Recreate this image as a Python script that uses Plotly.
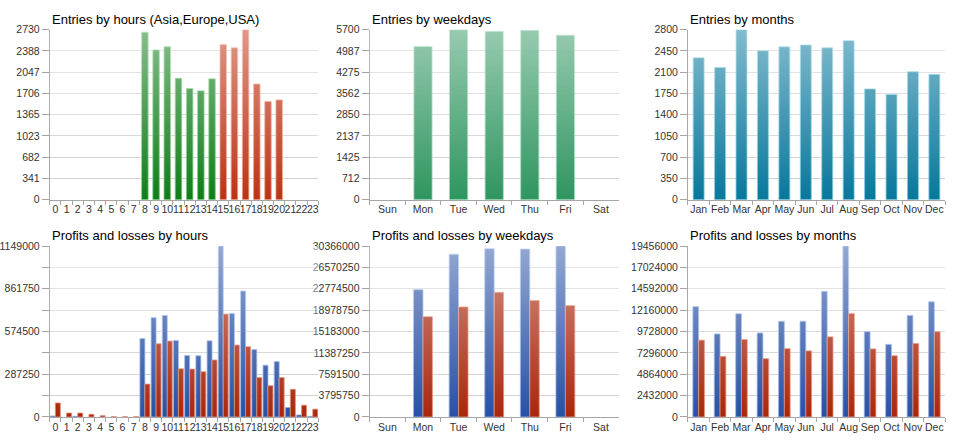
import base64
import struct
import zlib

import plotly.graph_objects as go

# ---------------- data ----------------
hours = [str(h) for h in range(24)]
hour_session = ["Asia"] * 8 + ["Europe"] * 7 + ["USA"] * 9
entries_hours = [0, 0, 0, 0, 0, 0, 0, 0, 2690, 2405, 2455, 1950, 1784, 1747,
                 1940, 2491, 2439, 2730, 1857, 1576, 1602, 0, 0, 0]

weekdays = ["Sun", "Mon", "Tue", "Wed", "Thu", "Fri", "Sat"]
entries_weekdays = [0, 5135, 5700, 5646, 5679, 5516, 0]

months = ["Jan", "Feb", "Mar", "Apr", "May", "Jun", "Jul", "Aug", "Sep", "Oct", "Nov", "Dec"]
entries_months = [2336, 2176, 2800, 2453, 2517, 2549, 2501, 2619, 1824, 1733, 2107, 2064]

profits_hours = [6500, 0, 4000, 0, 0, 0, 0, 0, 527400, 667500, 682800, 514300, 413600,
                 411400, 512100, 1149000, 695900, 846900, 453000, 348000, 372000,
                 63500, 13100, 4000]
losses_hours = [94100, 26300, 26000, 17500, 8750, 1500, 500, 1000, 221000, 492400, 509900,
                323900, 321700, 304200, 383000, 691600, 483600, 472700, 264800, 210100,
                264800, 186000, 78800, 52500]

profits_weekdays = [0, 22615000, 28920000, 29903000, 29845000, 30366000, 0]
losses_weekdays = [0, 17815000, 19550000, 22153000, 20707000, 19781000, 0]

profits_months = [12563000, 9450000, 11748000, 9561000, 10895000, 10895000, 14305000,
                  19456000, 9710000, 8264000, 11562000, 13119000]
losses_months = [8746000, 6893000, 8820000, 6634000, 7782000, 7523000, 9117000, 11785000,
                 7745000, 6967000, 8375000, 9710000]

ticks_entries_hours = ["0", "341", "682", "1023", "1365", "1706", "2047", "2388", "2730"]
ticks_entries_weekdays = ["0", "712", "1425", "2137", "2850", "3562", "4275", "4987", "5700"]
ticks_entries_months = ["0", "350", "700", "1050", "1400", "1750", "2100", "2450", "2800"]
ticks_pl_hours = ["0", "", "287250", "", "574500", "", "861750", "", "1149000"]
ticks_pl_weekdays = ["0", "3795750", "7591500", "11387250", "15183000", "18978750",
                     "22774500", "26570250", "30366000"]
ticks_pl_months = ["0", "2432000", "4864000", "7296000", "9728000", "12160000",
                   "14592000", "17024000", "19456000"]

titles = ["Entries by hours (Asia,Europe,USA)", "Entries by weekdays", "Entries by months",
          "Profits and losses by hours", "Profits and losses by weekdays",
          "Profits and losses by months"]

# ---------------- layout geometry ----------------
W, H = 960, 446
cols = [(45, 315), (366.5, 617), (686.5, 945)]
rows = [(24.3, 199), (246.7, 422.3)]

FONT = "Liberation Sans, Arial, sans-serif"
GREEN, GREEN_L = "#0f7d19", "#7cc97e"
RED, RED_L = "#be3214", "#eb9a86"
MINT, MINT_L = "#2f9660", "#98d6b6"
TEAL, TEAL_L = "#08789c", "#7cc6dc"
BLUE, BLUE_L = "#2850a5", "#93aee6"
BRED, BRED_L = "#aa260c", "#e08a70"


def gradient_png():
    rows_bytes = b""
    n = 256
    for i in range(n):
        a = int(round(128 * (1 - i / (n - 1))))
        rows_bytes += b"\x00" + bytes([255, 255, 255, a])

    def chunk(tag, data):
        c = struct.pack(">I", len(data)) + tag + data
        return c + struct.pack(">I", zlib.crc32(tag + data) & 0xFFFFFFFF)

    png = b"\x89PNG\r\n\x1a\n"
    png += chunk(b"IHDR", struct.pack(">IIBBBBB", 1, n, 8, 6, 0, 0, 0))
    png += chunk(b"IDAT", zlib.compress(rows_bytes))
    png += chunk(b"IEND", b"")
    return "data:image/png;base64," + base64.b64encode(png).decode()


fig = go.Figure()

session_color = {"Asia": GREEN, "Europe": GREEN, "USA": RED}
session_line = {"Asia": GREEN_L, "Europe": GREEN_L, "USA": RED_L}

panels = [
    dict(cats=hours, series=[(entries_hours, [session_color[s] for s in hour_session],
                              [session_line[s] for s in hour_session])],
         w=0.58, ticks=ticks_entries_hours, vmax=2730),
    dict(cats=weekdays, series=[(entries_weekdays, MINT, MINT_L)],
         w=0.51, ticks=ticks_entries_weekdays, vmax=5700),
    dict(cats=months, series=[(entries_months, TEAL, TEAL_L)],
         w=0.51, ticks=ticks_entries_months, vmax=2800),
    dict(cats=hours, series=[(profits_hours, BLUE, BLUE_L), (losses_hours, BRED, BRED_L)],
         w=0.445, ticks=ticks_pl_hours, vmax=1149000),
    dict(cats=weekdays, series=[(profits_weekdays, BLUE, BLUE_L), (losses_weekdays, BRED, BRED_L)],
         w=0.265, ticks=ticks_pl_weekdays, vmax=30366000),
    dict(cats=months, series=[(profits_months, BLUE, BLUE_L), (losses_months, BRED, BRED_L)],
         w=0.27, ticks=ticks_pl_months, vmax=19456000),
]

grad = gradient_png()
layout = dict(
    width=W, height=H, margin=dict(l=0, r=0, t=0, b=0),
    paper_bgcolor="white", plot_bgcolor="white", showlegend=False,
    font=dict(family=FONT, size=10.5, color="#333333"),
    annotations=[], images=[],
)

for k, p in enumerate(panels):
    r, c = divmod(k, 3)
    xa = "x" if k == 0 else f"x{k + 1}"
    ya = "y" if k == 0 else f"y{k + 1}"
    n = len(p["series"])
    w = p["w"]
    for j, (vals, col, lcol) in enumerate(p["series"]):
        fig.add_trace(go.Bar(
            x=p["cats"], y=vals, xaxis=xa, yaxis=ya,
            width=w, offset=-w * n / 2 + j * w,
            marker=dict(color=col, line=dict(color=lcol,
                                             width=[0.8 if v > 0 else 0 for v in vals])),
            hoverinfo="x+y",
        ))
    x0, x1 = cols[c]
    y0, y1 = rows[r]
    dom_x = [x0 / W, x1 / W]
    dom_y = [1 - y1 / H, 1 - y0 / H]
    vmax = p["vmax"]
    tickvals = [vmax * i / 8 for i in range(9)]
    layout["xaxis" + ("" if k == 0 else str(k + 1))] = dict(
        domain=dom_x, anchor=ya, type="category", categoryarray=p["cats"],
        range=[-0.5, len(p["cats"]) - 0.5], tickson="boundaries", ticks="outside",
        tickmode="linear", tick0=0, dtick=1,
        ticklen=4, tickcolor="#a6a6a6", showline=True, linecolor="#a6a6a6",
        linewidth=1, showgrid=False, zeroline=False, fixedrange=True,
        tickfont=dict(size=10.5, color="#333333"), tickangle=0,
    )
    layout["yaxis" + ("" if k == 0 else str(k + 1))] = dict(
        domain=dom_y, anchor=xa, range=[0, vmax], tickmode="array",
        tickvals=tickvals, ticktext=p["ticks"], ticks="outside", ticklen=7,
        tickcolor="#a6a6a6", showline=True, linecolor="#a6a6a6", linewidth=1,
        showgrid=True, gridcolor="#d0d0d0", gridwidth=1, zeroline=False,
        fixedrange=True, tickfont=dict(size=10.5, color="#333333"),
    )
    layout["annotations"].append(dict(
        text=titles[k], xref="paper", yref="paper", x=x0 / W,
        y=1 - (13.5 if r == 0 else 236.3) / H, xanchor="left", yanchor="middle",
        showarrow=False, font=dict(family=FONT, size=13, color="#000000"),
    ))
    layout["images"].append(dict(
        source=grad, xref="paper", yref="paper", x=x0 / W, y=1 - y0 / H,
        sizex=(x1 - x0) / W, sizey=(y1 - y0) / H, xanchor="left", yanchor="top",
        sizing="stretch", layer="above",
    ))

fig.update_layout(**layout)
fig.write_html("out.html", config={"displayModeBar": False},
               post_script="document.body.style.margin='0';document.body.style.overflow='hidden';")
